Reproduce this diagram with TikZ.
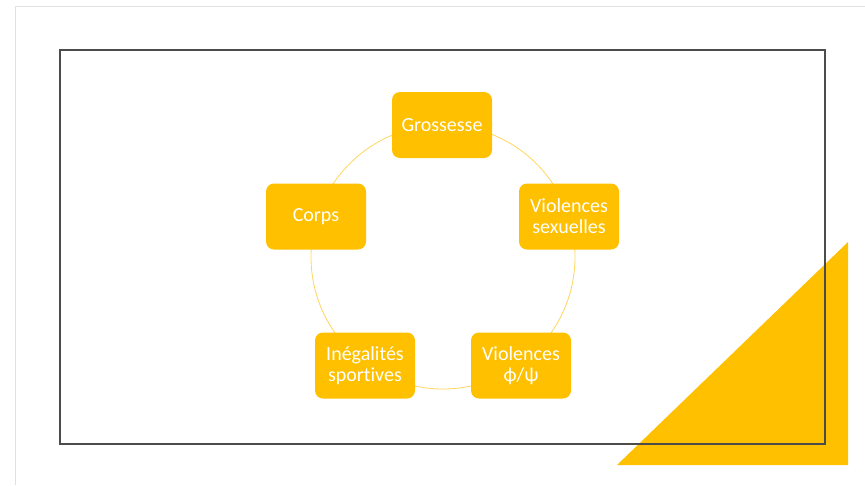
\documentclass[tikz,border=0pt]{standalone}
\usepackage{fontspec}
\setmainfont{Carlito}[Ligatures=NoCommon]
\usepackage{tikz}
\usetikzlibrary{backgrounds}
\definecolor{gold}{HTML}{FFC000}
\definecolor{paleline}{HTML}{FFD55C}
\newcommand{\boxcolor}{gold}
\newcommand{\ringradius}{132}
\tikzset{
  card/.style={fill=\boxcolor, rounded corners=8pt, minimum width=100pt, minimum height=66pt,
    inner sep=0pt, align=center, text=white, font=\fontsize{20}{21}\selectfont},
}

\begin{document}
\begin{tikzpicture}[x=1pt, y=-1pt]
\useasboundingbox (0,0) rectangle (865,485);
\draw[black!12, line width=1.2pt] (15.5,485) -- (15.5,6.5) -- (865,6.5);
\fill[\boxcolor] (617,465) -- (848,465) -- (848,242) -- cycle;
\draw[black!70, line width=1.4pt] (60,50) rectangle (825,444);
\node[card] (1) at (442,125) {Grossesse};
\node[card] (2) at (569,216.5) {Violences\\sexuelles};
\node[card] (3) at (521,365.5) {Violences\\ϕ/ψ};
\node[card] (4) at (365,365.5) {Inégalités\\sportives};
\node[card] (5) at (316,216.5) {Corps};
%ring
\begin{scope}[on background layer]
\coordinate (c) at (443,257);
\draw[paleline, line width=0.8pt] (c) circle (\ringradius);
\end{scope}
\end{tikzpicture}
\end{document}
